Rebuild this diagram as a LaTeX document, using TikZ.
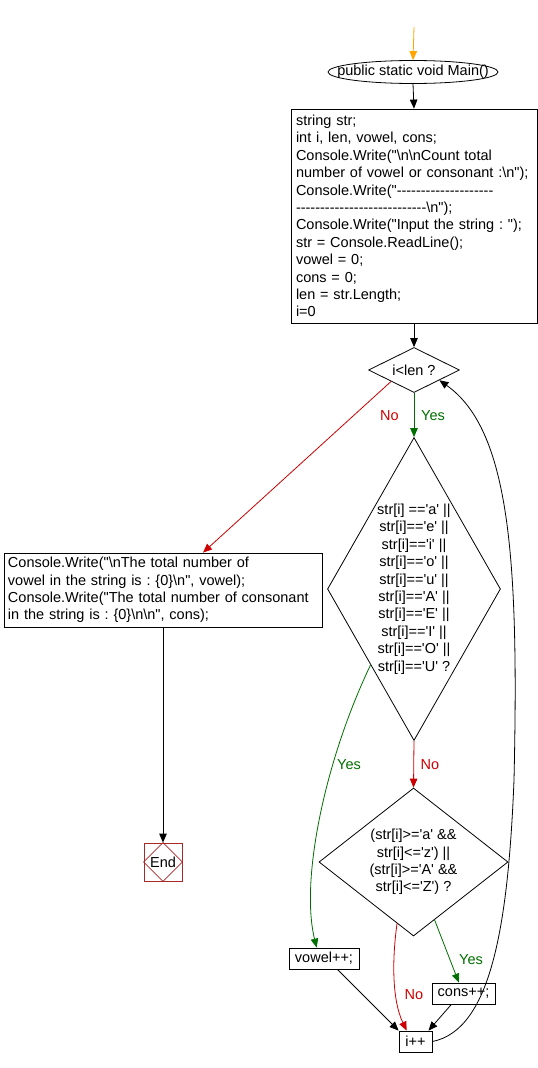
\documentclass[tikz,border=0pt]{standalone}
\usepackage{fontspec}
\setmainfont{Liberation Sans}[Ligatures=TeXOff]
\usetikzlibrary{shapes.geometric,arrows.meta,calc}
\definecolor{nored}{RGB}{204,0,0}
\definecolor{yesgreen}{RGB}{0,110,0}
\definecolor{endred}{RGB}{170,40,40}
\definecolor{startorange}{RGB}{255,165,0}
\newcommand\bsl{\textbackslash}
\frenchspacing
\begin{document}
\begin{tikzpicture}[x=1pt,y=-1pt,
  every node/.style={font=\fontsize{14.5}{17.4}\selectfont\frenchspacing},
  box/.style={rectangle,draw,line width=0.8pt,inner xsep=5pt,inner ysep=0pt,align=left},
  sbox/.style={rectangle,draw,line width=0.8pt,inner sep=0pt,minimum height=21pt},
  dia/.style={diamond,draw,line width=0.8pt,inner sep=0pt},
  arr/.style={-{Triangle[length=9pt,width=7.5pt]},line width=0.8pt},
  ylbl/.style={text=yesgreen,inner sep=0pt},
  nlbl/.style={text=nored,inner sep=0pt}]
\useasboundingbox (0,0) rectangle (538,1068);

\coordinate (start) at (414,27);
\node[ellipse,draw,line width=0.8pt,inner sep=0pt,minimum width=170pt,minimum height=23pt,
  label=center:{public static void Main()}] (main) at (413,72) {};

\node[box,minimum width=246pt,minimum height=214pt,text width=236pt] (init) at (414,216) {%
string str;\\
int i, len, vowel, cons;\\
Console.Write("\bsl n\bsl nCount total\\
number of vowel or consonant :\bsl n");\\
Console.Write("--------------------\\
---------------------------\bsl n");\\
Console.Write("Input the string : ");\\
str = Console.ReadLine();\\
vowel = 0;\\
cons = 0;\\
len = str.Length;\\
i=0};

\node[dia,minimum width=91pt,minimum height=45pt,label=center:{i<len ?}] (d1) at (414,370) {};

\node[dia,minimum width=173pt,minimum height=303pt,
  label={[align=center]center:{str[i] =='a' ||\\str[i]=='e' ||\\str[i]=='i' ||\\str[i]=='o' ||\\str[i]=='u' ||\\str[i]=='A' ||\\str[i]=='E' ||\\str[i]=='I' ||\\str[i]=='O' ||\\str[i]=='U' ?}}] (d2) at (414,589) {};

\node[dia,minimum width=189pt,minimum height=148pt,
  label={[align=center]center:{(str[i]>='a' \&\&\\str[i]<='z') ||\\(str[i]>='A' \&\&\\str[i]<='Z') ?}}] (d3) at (413.5,862) {};

\node[box,inner xsep=4pt,minimum width=318pt,minimum height=74pt,text width=310pt] (out) at (163,590) {%
Console.Write("\bsl nThe total number of\\
vowel in the string is : \{0\}\bsl n", vowel);\\
Console.Write("The total number of consonant\\
in the string is : \{0\}\bsl n\bsl n", cons);};

\node[draw=endred,line width=0.8pt,minimum size=38pt,inner sep=0pt] (end) at (163,862) {End};
\draw[endred,line width=0.6pt] (end.north) -- (end.east) -- (end.south) -- (end.west) -- cycle;

\node[sbox,minimum width=70pt] (vowel) at (324,958.5) {vowel++;};
\node[sbox,minimum width=63pt] (cons) at (463.5,993.5) {cons++;};
\node[sbox,minimum width=33pt] (ipp) at (415.5,1041.5) {i++};

\draw[arr,startorange] (start) -- (main.north);
\draw[arr] (main.south) -- (init.north);
\draw[arr] (init.south) -- (d1.north);
\draw[arr,yesgreen] (d1.south) -- (d2.north) node[ylbl] at (433,416) {Yes};
\draw[arr,nored] (d1.south west) -- ([xshift=40pt]out.north) node[nlbl] at (389.5,416) {No};
\draw[arr] (out.south) -- (end.north);
\draw[arr,yesgreen] (d2.south west) .. controls (325,760) and (300,880) .. (vowel.124)
  node[ylbl] at (349,765) {Yes};
\draw[arr,nored] (d2.south) -- (d3.north) node[nlbl] at (430,765) {No};
\draw[arr,nored] (d3.255) .. controls (392,960) and (392,1000) .. (ipp.129)
  node[nlbl] at (414,995) {No};
\draw[arr,yesgreen] (d3.290) -- (cons.113) node[ylbl] at (471,960) {Yes};
\draw[arr] (vowel.-39) -- (ipp.north west);
\draw[arr] (cons.222) -- (ipp.40);
\draw[arr] (ipp.east) .. controls (490,1030) and (508,930) .. (514,780)
  .. controls (519,560) and (510,430) .. (d1.-22);
\end{tikzpicture}
\end{document}
